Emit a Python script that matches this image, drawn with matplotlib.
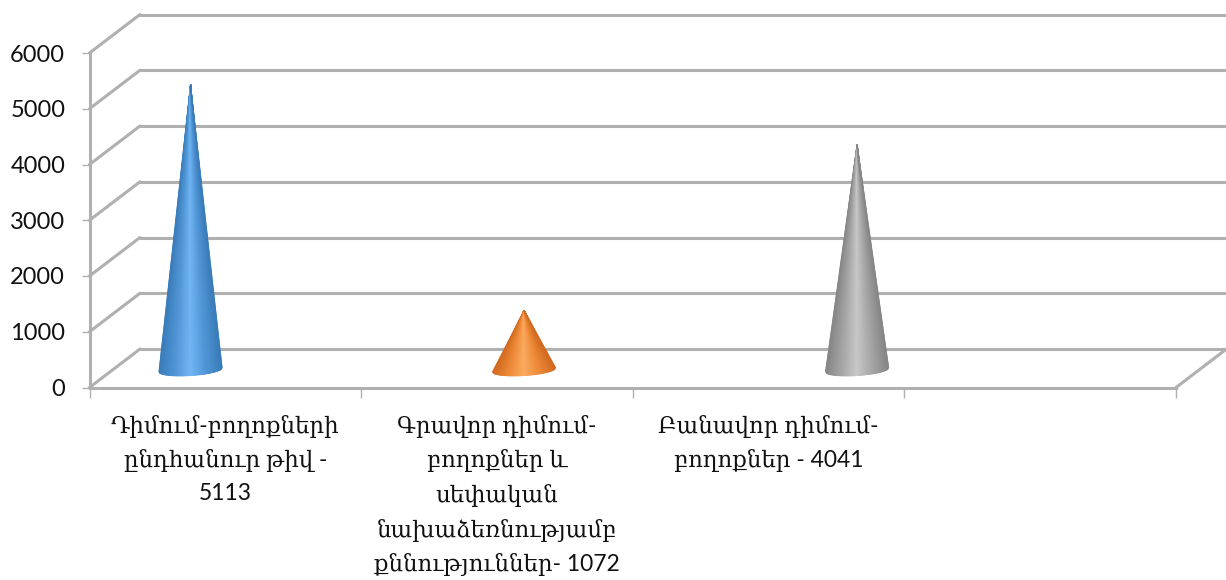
import numpy as np
import matplotlib
matplotlib.use("Agg")
import matplotlib.pyplot as plt
from matplotlib.colors import LinearSegmentedColormap

# ------------------------------
# DATA
# ------------------------------

CATEGORIES = [
    "Դիմում-բողոքների\nընդհանուր թիվ -\n5113",
    "Գրավոր դիմում-\nբողոքներ և\nսեփական\nնախաձեռնությամբ\nքննություններ- 1072",
    "Բանավոր դիմում-\nբողոքներ - 4041",
]
VALUES = [5113, 1072, 4041]
Y_TICKS = [0, 1000, 2000, 3000, 4000, 5000, 6000]

# ------------------------------
# STYLE / LAYOUT
# ------------------------------

W, H = 1226, 580
LEFT, RIGHT = 89.5, 1176
BOTTOM, TOP = 387.5, 53

GRID = "#b0b0b0"
FONTS = ["Lato", "DejaVu Serif"]

N_SLOTS = 4
UNIT_X = (RIGHT - LEFT) / N_SLOTS
UNIT_Y = (BOTTOM - TOP) / 6000
DEPTH_X = 50.5 / UNIT_X            # depth of the 3D box in data units
DEPTH_Y = 38.5 / UNIT_Y

CONE_POS = [0.372, 1.600, 2.826]
CONE_BASE = 17.5 / UNIT_Y
CONE_HALF = 31.5 / UNIT_X
CONE_DROP = 5.5 / UNIT_Y
CONE_TILT = 2.0 / UNIT_Y

SHADES = [
    ["#3a7cba", "#5096d6", "#72b6f4", "#5096d6", "#3a7cba"],
    ["#d26a20", "#ee8a38", "#fbab60", "#ee8a38", "#d26a20"],
    ["#868686", "#a6a6a6", "#c8c8c8", "#a6a6a6", "#868686"],
]


def draw_cone(ax, x, value, shades):
    cmap = LinearSegmentedColormap.from_list("cone", shades)
    u = np.linspace(-1, 1, 61)
    v = np.linspace(0, 1, 2)
    uu, vv = np.meshgrid(u, v)
    xs = x + uu * CONE_HALF * vv
    edge = CONE_BASE - CONE_DROP * np.sqrt(1 - uu ** 2) + CONE_TILT * uu
    ys = (CONE_BASE + value) * (1 - vv) + edge * vv
    ax.pcolormesh(xs, ys, uu, cmap=cmap, shading="gouraud", clip_on=False,
                  zorder=4, rasterized=True)


# ------------------------------
# FIGURE
# ------------------------------

fig = plt.figure(figsize=(W / 100, H / 100), dpi=100)
ax = fig.add_axes([LEFT / W, 1 - BOTTOM / H, (RIGHT - LEFT) / W, (BOTTOM - TOP) / H])
ax.set_xlim(0, N_SLOTS)
ax.set_ylim(0, 6000)

# back wall and side wall
line_style = dict(color=GRID, lw=2.2, clip_on=False, zorder=2, solid_capstyle="round")
for tick in Y_TICKS:
    ax.plot([0, DEPTH_X], [tick, tick + DEPTH_Y], **line_style)
    ax.plot([DEPTH_X, N_SLOTS + DEPTH_X], [tick + DEPTH_Y, tick + DEPTH_Y], **line_style)
ax.plot([N_SLOTS, N_SLOTS + DEPTH_X], [0, DEPTH_Y], **line_style)

for pos, val, shades in zip(CONE_POS, VALUES, SHADES):
    draw_cone(ax, pos, val, shades)

for side in ["top", "right"]:
    ax.spines[side].set_visible(False)
for side in ["left", "bottom"]:
    ax.spines[side].set_color(GRID)
    ax.spines[side].set_linewidth(2.2)
    ax.spines[side].set_zorder(3)

ax.set_yticks(Y_TICKS)
ax.tick_params(axis="y", length=6, width=1.0, color=GRID, pad=11.5)
for label in ax.get_yticklabels():
    label.set_family(FONTS)
    label.set_fontsize(17)
    label.set_color("#111111")

ax.set_xticks(range(N_SLOTS + 1))
ax.set_xticklabels([])
ax.tick_params(axis="x", which="major", length=7, width=1.0, color=GRID)
ax.set_xticks([i + 0.5 for i in range(len(CATEGORIES))], minor=True)
ax.set_xticklabels(CATEGORIES, minor=True, family=FONTS, fontsize=16.5,
                   linespacing=1.65, color="#111111", ha="center", va="top")
ax.tick_params(axis="x", which="minor", length=0, pad=19.5)

fig.savefig("out.png", dpi=100, facecolor="white")
